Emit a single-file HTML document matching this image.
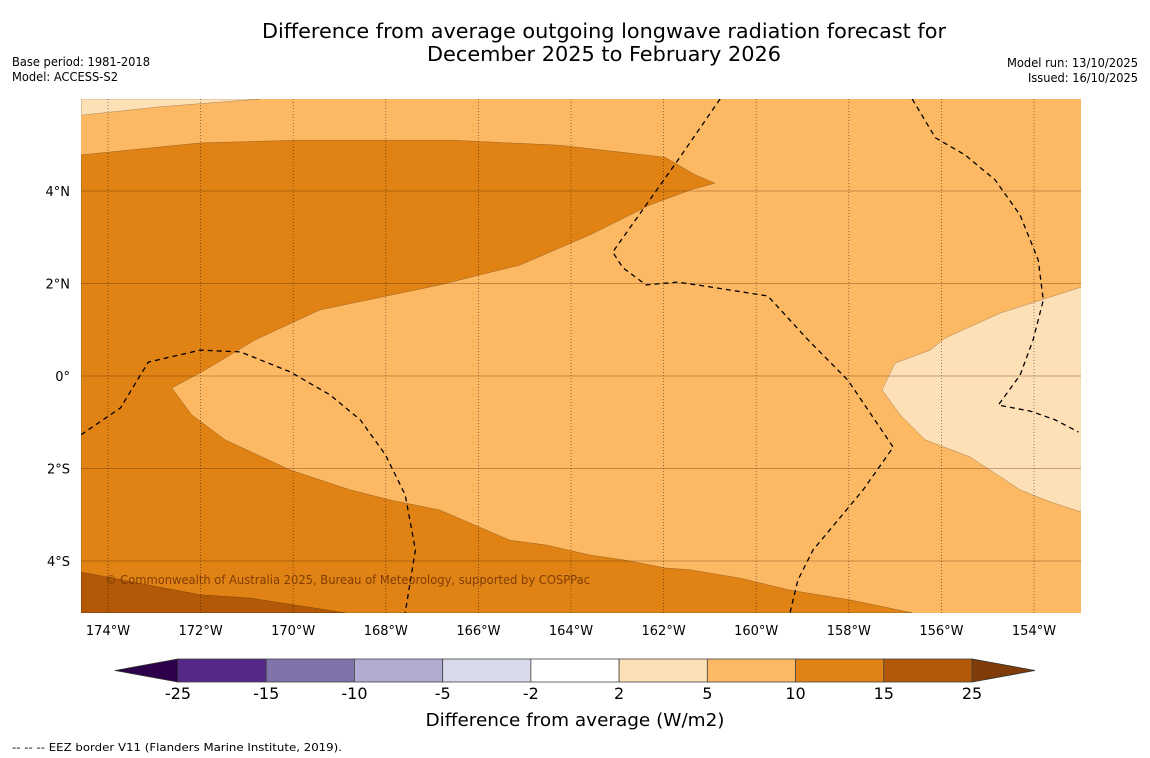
<!DOCTYPE html>
<html><head><meta charset="utf-8"><style>
body{margin:0;background:#fff;}
svg{display:block;font-family:"DejaVu Sans","Liberation Sans",sans-serif;}
</style></head><body>
<svg id="chart" width="1150" height="758" viewBox="0 0 1150 758">
<rect width="1150" height="758" fill="#fff"/>
<text x="604" y="38" text-anchor="middle" font-size="20" textLength="684" lengthAdjust="spacingAndGlyphs">Difference from average outgoing longwave radiation forecast for</text>
<text x="604" y="61" text-anchor="middle" font-size="20" textLength="354" lengthAdjust="spacingAndGlyphs">December 2025 to February 2026</text>
<text x="12" y="66" font-size="12" textLength="138" lengthAdjust="spacingAndGlyphs">Base period: 1981-2018</text>
<text x="12" y="81" font-size="12" textLength="106" lengthAdjust="spacingAndGlyphs">Model: ACCESS-S2</text>
<text x="1138" y="67" font-size="12" text-anchor="end" textLength="131" lengthAdjust="spacingAndGlyphs">Model run: 13/10/2025</text>
<text x="1138" y="82" font-size="12" text-anchor="end" textLength="110" lengthAdjust="spacingAndGlyphs">Issued: 16/10/2025</text>
<defs><clipPath id="mapclip"><rect x="81" y="99" width="1000" height="514"/></clipPath></defs>
<g id="map" clip-path="url(#mapclip)"></g>
<g id="axes"></g>
<g id="cbar"></g>
<text x="575" y="726" text-anchor="middle" font-size="18" textLength="299" lengthAdjust="spacingAndGlyphs">Difference from average (W/m2)</text>
<text x="12" y="751" font-size="11" textLength="330" lengthAdjust="spacingAndGlyphs">--  --  -- EEZ border V11 (Flanders Marine Institute, 2019).</text>
</svg>
<script>
const lonTicks=[-174,-172,-170,-168,-166,-164,-162,-160,-158,-156,-154];
const latTicks=[4,2,0,-2,-4];
const latLabels=["4°N","2°N","0°","2°S","4°S"];
const cbLevels=["-25","-15","-10","-5","-2","2","5","10","15","25"];
const cbColors=["#542788","#8073ac","#b2abd2","#d8daeb","#ffffff","#fee0b6","#fdb863","#e08214","#b35806"];
const lowExt="#2d004b", highExt="#7f3b08";
const baseColor="#fdb863";
const band10to15=[[-174.58,4.78],[-172.01,5.04],[-169.85,5.10],[-166.61,5.10],[-164.24,4.99],[-161.97,4.73],[-161.32,4.35],[-160.89,4.17],[-161.43,4.02],[-162.29,3.70],[-163.59,3.05],[-165.10,2.40],[-166.83,1.97],[-169.42,1.43],[-170.82,0.78],[-171.90,0.13],[-172.62,-0.26],[-172.19,-0.84],[-171.47,-1.38],[-170.07,-2.03],[-168.77,-2.46],[-167.91,-2.68],[-166.83,-2.90],[-165.32,-3.55],[-164.56,-3.65],[-163.59,-3.87],[-162.83,-3.98],[-161.97,-4.15],[-161.43,-4.19],[-160.35,-4.37],[-159.27,-4.63],[-157.97,-4.84],[-156.63,-5.12],[-174.58,-5.12]];
const band15to25=[[-174.58,-4.24],[-172.01,-4.73],[-170.93,-4.80],[-168.88,-5.12],[-174.58,-5.12]];
const band2to5NW=[[-174.58,5.99],[-170.72,5.99],[-172.88,5.82],[-174.58,5.64]];
const band2to5E=[[-152.98,1.92],[-154.73,1.36],[-155.92,0.82],[-156.24,0.56],[-157.00,0.28],[-157.28,-0.30],[-156.89,-0.84],[-156.35,-1.38],[-155.38,-1.75],[-154.30,-2.46],[-153.65,-2.72],[-152.98,-2.94]];
const eezWest=[[-174.58,-1.27],[-173.73,-0.69],[-173.13,0.30],[-172.01,0.56],[-171.14,0.52],[-170.07,0.09],[-169.20,-0.41],[-168.55,-0.95],[-168.01,-1.70],[-167.58,-2.57],[-167.36,-3.76],[-167.58,-5.12]];
const eezMid=[[-160.78,5.99],[-161.69,4.67],[-163.10,2.68],[-162.88,2.34],[-162.38,1.97],[-161.69,2.03],[-160.83,1.90],[-159.75,1.73],[-158.88,0.78],[-158.02,-0.09],[-157.04,-1.54],[-157.69,-2.46],[-158.23,-3.11],[-158.77,-3.76],[-159.10,-4.41],[-159.27,-5.12]];
const eezEast=[[-156.63,5.99],[-156.13,5.15],[-155.49,4.78],[-154.84,4.24],[-154.30,3.48],[-153.91,2.51],[-153.80,1.64],[-154.02,0.78],[-154.30,0.02],[-154.77,-0.63],[-154.08,-0.76],[-153.54,-0.95],[-153.04,-1.21]];
const X=lon=>108+(lon+174)*46.3;
const Y=lat=>376-lat*46.25;
const NS="http://www.w3.org/2000/svg";
function mk(tag,attrs,parent){const e=document.createElementNS(NS,tag);for(const k in attrs)e.setAttribute(k,attrs[k]);parent.appendChild(e);return e;}
const map=document.getElementById('map');
let el=mk('rect',{x:81,y:99,width:1000,height:514,fill:baseColor},map);


function poly(pts,fill,name){const p=mk('polygon',{points:pts.map(q=>X(q[0]).toFixed(1)+','+Y(q[1]).toFixed(1)).join(' '),fill:fill,stroke:'rgba(0,0,0,0.35)','stroke-width':0.5},map);

}
poly(band10to15,"#e08214","contour-10-to-15");
poly(band15to25,"#b35806","contour-15-to-25");
poly(band2to5NW,"#fee0b6","contour-2-to-5-northwest");
poly(band2to5E,"#fee0b6","contour-2-to-5-east");
lonTicks.forEach(l=>{const g=mk('line',{x1:X(l),x2:X(l),y1:99,y2:613,stroke:'rgba(0,0,0,0.55)','stroke-width':0.8,'stroke-dasharray':'1,2'},map);

});
latTicks.forEach(l=>{const g=mk('line',{x1:81,x2:1081,y1:Y(l),y2:Y(l),stroke:'rgba(90,40,0,0.45)','stroke-width':0.8},map);

});
[eezWest,eezMid,eezEast].forEach((ln,i)=>{const p=mk('polyline',{points:ln.map(q=>X(q[0]).toFixed(1)+','+Y(q[1]).toFixed(1)).join(' '),fill:'none',stroke:'#000','stroke-width':1.3,'stroke-dasharray':'5,4'},map);

});
el=mk('text',{x:105,y:584,'font-size':12,fill:'rgba(110,50,0,0.85)',textLength:485,lengthAdjust:'spacingAndGlyphs'},map);
el.textContent="© Commonwealth of Australia 2025, Bureau of Meteorology, supported by COSPPac";


const axes=document.getElementById('axes');
lonTicks.forEach(l=>{const t=mk('text',{x:X(l),y:635,'font-size':13,'text-anchor':'middle'},axes);t.textContent=Math.abs(l)+"°W";

});
latTicks.forEach((l,i)=>{const t=mk('text',{x:70,y:Y(l)+5,'font-size':13,'text-anchor':'end'},axes);t.textContent=latLabels[i];

});
const cb=document.getElementById('cbar');
const cx0=178,cx1=972,cy=659,ch=23,sw=(cx1-cx0)/cbColors.length;
el=mk('polygon',{points:`115,${cy+ch/2} ${cx0},${cy} ${cx0},${cy+ch}`,fill:lowExt,stroke:'#333','stroke-width':0.8},cb);


el=mk('polygon',{points:`1035,${cy+ch/2} ${cx1},${cy} ${cx1},${cy+ch}`,fill:highExt,stroke:'#333','stroke-width':0.8},cb);


cbColors.forEach((c,i)=>{const r=mk('rect',{x:cx0+i*sw,y:cy,width:sw,height:ch,fill:c,stroke:'#444','stroke-width':0.8},cb);

});
cbLevels.forEach((v,i)=>{const t=mk('text',{x:cx0+i*sw,y:699,'font-size':16,'text-anchor':'middle'},cb);t.textContent=v;

});
</script>
</body></html>
